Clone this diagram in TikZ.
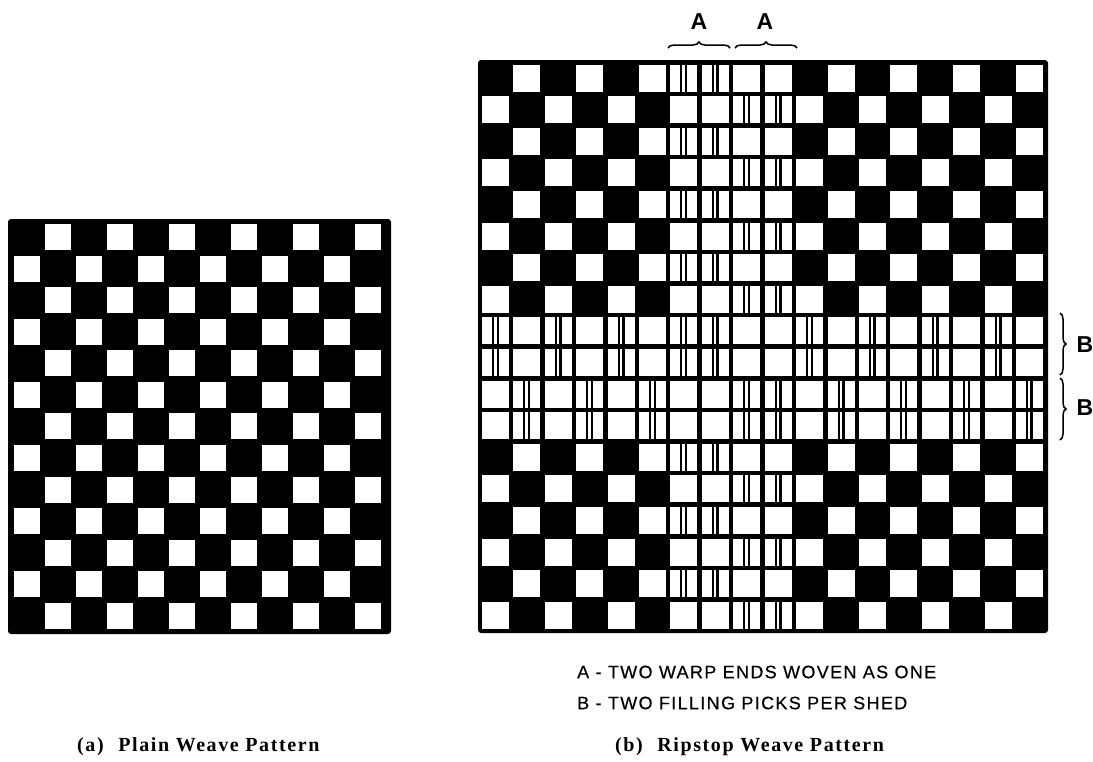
\documentclass[tikz,border=0pt]{standalone}
\usepackage{fontspec}
\usepackage{tikz}
\usetikzlibrary{decorations.pathreplacing}
\setmainfont{Liberation Sans}
\newfontfamily\capfont[LetterSpace=8]{Liberation Serif}
\newfontfamily\keyfont[LetterSpace=7.5,FakeBold=0.5]{Liberation Sans}
\newfontfamily\markfont{Liberation Sans}

\begin{document}
\begin{tikzpicture}[
    x=1pt, y=-1pt,
    panel/.style={fill=black, rounded corners=3pt},
    yarn/.style={fill=white},
    bar/.style={fill=black},
    bracelabel/.style={font=\markfont\bfseries\fontsize{23}{24}\selectfont, inner sep=0pt},
    keytext/.style={font=\keyfont\fontsize{18}{20}\selectfont, anchor=west, inner sep=0pt},
    caption/.style={font=\capfont\bfseries\fontsize{20}{22}\selectfont, anchor=west, inner sep=0pt},
    bracket/.style={decorate, decoration={brace, amplitude=6pt}, line width=1.5pt}
]
    \useasboundingbox (0,0) rectangle (1093,761);

    % plain weave
    \fill[panel] (8,219) rectangle (391,634);
    \foreach \row in {1,...,13}
      \foreach \col in {1,...,12} {
        \pgfmathtruncatemacro{\up}{mod(\row+\col,2)}
        \ifnum\up=1
          \fill[yarn] ({14+31*(\col-1)},{224+31.58*(\row-1)}) rectangle +(26,26);
        \fi
      }

    % ripstop weave
    \fill[panel] (478,60) rectangle (1048,633);
    \foreach \row/\weft in {1/1,2/2,3/3,4/4,5/5,6/6,7/7,8/8,9/9,10/9,11/10,12/10,13/13,14/14,15/15,16/16,17/17,18/18}
      \foreach \col in {1,...,18} {
        \pgfmathsetmacro{\cellx}{482+31.41*(\col-1)}
        \pgfmathsetmacro{\celly}{64.5+31.6*(\row-1)}
        \pgfmathtruncatemacro{\warp}{\col==8 ? 7 : (\col==9 ? 10 : \col)}
        \pgfmathtruncatemacro{\up}{mod(\warp+\weft,2)}
        \pgfmathtruncatemacro{\splitcell}{(\warp==7 || \warp==10 || (\row>8 && \row<13)) ? 1 : 0}
        \ifnum\up=1
          \fill[yarn] (\cellx,\celly) rectangle +(27,27);
        \else
          \ifnum\splitcell=1
            \fill[yarn] (\cellx,\celly) rectangle +(27,27);
            \fill[bar] ({\cellx+10},\celly) rectangle +(2,27);
            \fill[bar] ({\cellx+14.5},\celly) rectangle +(2.5,27);
          \fi
        \fi
      }

    \coordinate (warpa1) at (668,48);
    \coordinate (warpa2) at (730,48);
    \coordinate (warpb1) at (735,48);
    \coordinate (warpb2) at (797,48);
    \coordinate (picka1) at (1060,313);
    \coordinate (picka2) at (1060,375);
    \coordinate (pickb1) at (1060,378);
    \coordinate (pickb2) at (1060,440);

    \draw[bracket] (warpa1) -- (warpa2);
    \draw[bracket] (warpb1) -- (warpb2);
    \draw[bracket] (picka1) -- (picka2);
    \draw[bracket] (pickb1) -- (pickb2);

    \node[bracelabel] (labela1) at (699,22) {A};
    \node[bracelabel] (labela2) at (765,22) {A};
    \node[bracelabel] (labelb1) at (1085,345) {B};
    \node[bracelabel] (labelb2) at (1085,408) {B};

    \node[keytext] (keya) at (577,672) {A - TWO WARP ENDS WOVEN AS ONE};
    \node[keytext] (keyb) at (577,703) {B - TWO FILLING PICKS PER SHED};
    \node[caption] (capa) at (77,747) {(a)\hspace{8pt} Plain Weave Pattern};
    \node[caption] (capb) at (615,747) {(b)\hspace{8pt} Ripstop Weave Pattern};
\end{tikzpicture}
\end{document}
